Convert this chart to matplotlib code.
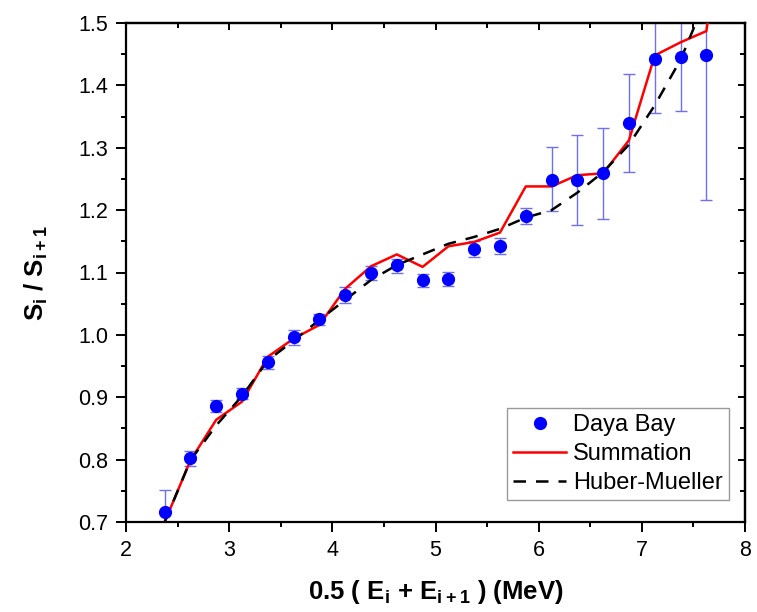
import numpy as np
import matplotlib
matplotlib.use("Agg")
import matplotlib.pyplot as plt
from matplotlib.ticker import MultipleLocator, FormatStrFormatter

plt.rcParams['font.family'] = ['Liberation Sans', 'DejaVu Sans']
plt.rcParams['mathtext.fontset'] = 'custom'
plt.rcParams['mathtext.rm'] = 'Liberation Sans'
plt.rcParams['mathtext.bf'] = 'Liberation Sans:bold'

# Daya Bay ratio data
energy = [2.375, 2.625, 2.875, 3.125, 3.375, 3.625, 3.875, 4.125, 4.375, 4.625, 4.875,
          5.125, 5.375, 5.625, 5.875, 6.125, 6.375, 6.625, 6.875, 7.125, 7.375, 7.625]
ratio = [0.716, 0.803, 0.886, 0.906, 0.956, 0.997, 1.026, 1.064, 1.099, 1.112, 1.088,
         1.090, 1.138, 1.142, 1.191, 1.249, 1.248, 1.259, 1.339, 1.443, 1.445, 1.449]
err_up = [0.035, 0.011, 0.009, 0.009, 0.010, 0.011, 0.008, 0.012, 0.012, 0.010, 0.010,
          0.011, 0.012, 0.013, 0.013, 0.052, 0.072, 0.072, 0.079, 0.090, 0.090, 0.232]
err_lo = [0.035, 0.013, 0.009, 0.009, 0.010, 0.013, 0.010, 0.013, 0.011, 0.012, 0.011,
          0.011, 0.013, 0.013, 0.013, 0.051, 0.072, 0.074, 0.078, 0.087, 0.086, 0.232]

# model curves
model_x = [2.375, 2.625, 2.875, 3.125, 3.375, 3.625, 3.875, 4.125, 4.375, 4.625, 4.875,
           5.125, 5.375, 5.625, 5.875, 6.125, 6.375, 6.625, 6.875, 7.125, 7.375, 7.625, 7.875]
summation = [0.700, 0.799, 0.864, 0.893, 0.965, 0.994, 1.016, 1.074, 1.110, 1.129, 1.109,
             1.142, 1.149, 1.164, 1.238, 1.238, 1.256, 1.259, 1.312, 1.448, 1.469, 1.487, 1.75]
huber_mueller = [0.700, 0.799, 0.855, 0.902, 0.959, 0.991, 1.024, 1.056, 1.088, 1.112, 1.129,
                 1.146, 1.157, 1.170, 1.188, 1.200, 1.228, 1.261, 1.305, 1.368, 1.441, 1.54, 1.64]

fig = plt.figure(figsize=(7.57, 6.12), dpi=100)
ax = fig.add_axes([126/757, 1 - 522/612, 619/757, 499/612])

l_sum, = ax.plot(model_x, summation, color='red', lw=1.8, label='Summation', zorder=3)
l_hm, = ax.plot(model_x, huber_mueller, color='black', lw=1.8, ls=(0, (5, 4)),
                label='Huber-Mueller', zorder=3)
ax.errorbar(energy, ratio, yerr=[err_lo, err_up], fmt='none', ecolor='#6f6ff5',
            elinewidth=1.0, capsize=4, capthick=1.0, zorder=2)
l_db, = ax.plot(energy, ratio, 'o', color='blue', ms=8.5, mec='blue', ls='none',
                label='Daya Bay', zorder=4)

ax.set_xlim(2, 8)
ax.set_ylim(0.7, 1.5)
ax.xaxis.set_major_locator(MultipleLocator(1))
ax.xaxis.set_minor_locator(MultipleLocator(0.5))
ax.yaxis.set_major_locator(MultipleLocator(0.1))
ax.yaxis.set_minor_locator(MultipleLocator(0.05))
ax.yaxis.set_major_formatter(FormatStrFormatter('%.1f'))

for s in ax.spines.values():
    s.set_linewidth(1.6)
ax.tick_params(which='both', direction='out', width=1.4, labelsize=15.5)
ax.tick_params(which='major', length=7)
ax.tick_params(which='minor', length=3.6)
ax.tick_params(axis='x', pad=6)
ax.tick_params(axis='y', pad=6)

# mirrored inward ticks on top / right
top = ax.secondary_xaxis('top')
top.set_xticks(np.arange(2, 8.01, 1))
top.xaxis.set_minor_locator(MultipleLocator(0.5))
top.tick_params(which='both', direction='in', width=1.4, labeltop=False)
top.tick_params(which='major', length=5)
top.tick_params(which='minor', length=3.5)
top.spines['top'].set_linewidth(1.6)
right = ax.secondary_yaxis('right')
right.set_yticks(np.arange(0.7, 1.501, 0.1))
right.yaxis.set_minor_locator(MultipleLocator(0.05))
right.tick_params(which='both', direction='in', width=1.4, labelright=False)
right.tick_params(which='major', length=5)
right.tick_params(which='minor', length=3.5)
right.spines['right'].set_linewidth(1.6)

ax.set_xlabel(r'0.5 ( E$_\mathbf{i}$ + E$_\mathbf{i+1}$ ) (MeV)', fontsize=18.5,
              fontweight='bold', labelpad=12)
ax.set_ylabel(r'S$_\mathbf{i}$ / S$_\mathbf{i+1}$', fontsize=18.5, fontweight='bold', labelpad=20)

leg = ax.legend(handles=[l_db, l_sum, l_hm], loc='lower right',
                bbox_to_anchor=(729/757, 1 - 500/612), bbox_transform=fig.transFigure,
                fontsize=17, frameon=True, fancybox=False, edgecolor='#808080',
                borderpad=0.25, handlelength=2.25, handletextpad=0.3, labelspacing=0.3,
                borderaxespad=0)
leg.get_frame().set_linewidth(1.0)

fig.savefig('out.png', dpi=100)
